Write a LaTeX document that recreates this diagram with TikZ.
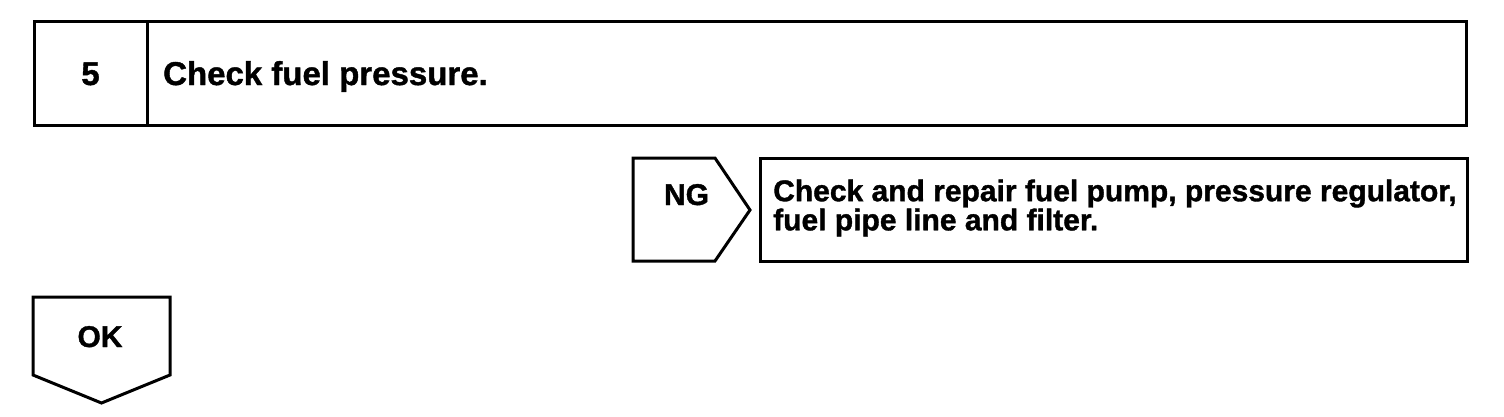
\documentclass[tikz,border=0pt]{standalone}
\usepackage{fontspec}
\setmainfont[BoldFeatures={FakeBold=1.2}]{Liberation Sans}
\usetikzlibrary{positioning}

\begin{document}
\begin{tikzpicture}[
  x=1pt, y=-1pt,
  every node/.style={inner sep=0pt, font=\bfseries},
  frameline/.style={draw=black, line width=3pt, line join=miter},
  bigtext/.style={font=\fontsize{33}{36}\selectfont\bfseries},
  tagtext/.style={font=\fontsize{30}{32}\selectfont\bfseries},
  actiontext/.style={font=\fontsize{30}{26}\selectfont\bfseries, align=left}
]
  \useasboundingbox (0,0) rectangle (1504,416);

  % step header
  \draw[frameline] (34,21) rectangle (1466,125);
  \draw[frameline] (147,21) -- (147,125);
  \node[bigtext, anchor=base] (stepnum) at (90.5,85) {5};
  \node[bigtext, anchor=base west] (steptitle) at (163,85) {Check fuel pressure.};

  % NG branch
  \draw[frameline] (633,158) -- (715,158) -- (750,210) -- (715,261)
    -- (633,261) -- cycle;
  \node[tagtext, anchor=base] (ng) at (686.5,205) {NG};
  \draw[frameline] (760,158) rectangle (1467,261);
  \node[actiontext, anchor=west] (repair) at (773,208)
    {Check and repair fuel pump, pressure regulator,\\ fuel pipe line and filter.};

  % OK branch
  \draw[frameline] (33,297) -- (170,297) -- (170,375) -- (101.5,403)
    -- (33,375) -- cycle;
  \node[tagtext, anchor=base] (ok) at (100,347) {OK};
\end{tikzpicture}
\end{document}
